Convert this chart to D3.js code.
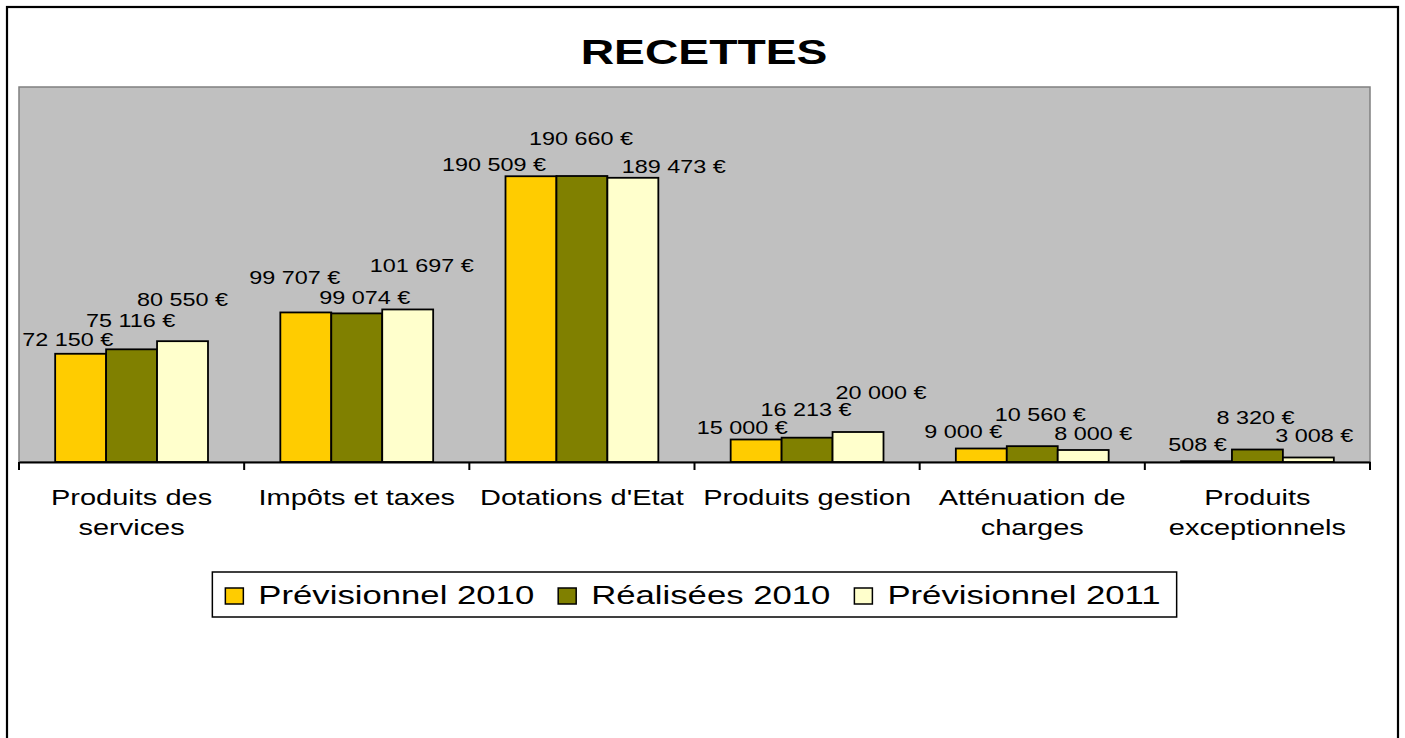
<!DOCTYPE html>
<html>
<head>
<meta charset="utf-8">
<script src="https://cdn.jsdelivr.net/npm/d3@7"></script>
<style>
  body { margin: 0; background: #fff; }
  svg { display: block; font-family: Arial, 'Liberation Sans', sans-serif; }
  .plotbg { fill: #c0c0c0; stroke: #808080; stroke-width: 1.5; }
  .bar { stroke: #000; stroke-width: 1.8; }
  .lbl { font-size: 18px; fill: #000; text-anchor: middle; }
  .cat { font-size: 22.3px; fill: #000; text-anchor: middle; }
  .leg { font-size: 26.7px; fill: #000; }
</style>
</head>
<body>
<script>
const categories = ['Produits des services', 'Impôts et taxes', "Dotations d'Etat", 'Produits gestion', 'Atténuation de charges', 'Produits exceptionnels']
const categoryLines = [['Produits des', 'services'], ['Impôts et taxes'], ["Dotations d'Etat"], ['Produits gestion'], ['Atténuation de', 'charges'], ['Produits', 'exceptionnels']]
const seriesNames = ['Prévisionnel 2010', 'Réalisées 2010', 'Prévisionnel 2011']
const prev2010 = [72150, 99707, 190509, 15000, 9000, 508]
const real2010 = [75116, 99074, 190660, 16213, 10560, 8320]
const prev2011 = [80550, 101697, 189473, 20000, 8000, 3008]
const colors = ['#ffcc00', '#808000', '#ffffcc']

// the labels were dragged by hand in the original: [dx, dy] from bar top centre
const nudgePrev2010 = [[-13, -8], [-11, -28], [-37, -5], [-14, -6], [-18, -11], [-9, -10]]
const nudgeReal2010 = [[-1, -22], [8, -9], [-1, -31], [-1, -22], [8, -25], [-2, -26]]
const nudgePrev2011 = [[0, -35], [14, -37], [41, -5], [23, -33], [10, -10], [6, -15]]

const series = [prev2010, real2010, prev2011]
const nudges = [nudgePrev2010, nudgeReal2010, nudgePrev2011]

const width = 1405
const height = 738
const SX = 1.3 // the picture is stretched sideways

const plot = { left: 19, right: 1370, top: 87, bottom: 462 }

const euro = d3.formatLocale({ thousands: '\u00a0', grouping: [3], decimal: ',', currency: ['', '\u00a0€'] }).format('$,')

const svg = d3.select('body')
  .append('svg')
  .attr('width', width)
  .attr('height', height)

// outer frame
svg.append('rect')
  .attr('x', 7).attr('y', 7)
  .attr('width', 1391).attr('height', 760)
  .attr('fill', '#fff')
  .attr('stroke', '#000')
  .attr('stroke-width', 2.2)

const stretch = (sel, x, y) => sel.attr('transform', `translate(${x},${y}) scale(${SX},1)`)

svg.append('text')
  .text('RECETTES')
  .attr('text-anchor', 'middle')
  .attr('font-size', 35.6)
  .attr('font-weight', 'bold')
  .call(stretch, 704, 64)

const x = d3.scaleBand()
  .domain(categories)
  .range([plot.left, plot.right])

const y = d3.scaleLinear()
  .domain([0, 250000])
  .range([plot.bottom, plot.top])

const barW = x.bandwidth() / 4.42
const xs = d3.scaleBand()
  .domain(d3.range(series.length))
  .range([(x.bandwidth() - 3 * barW) / 2, (x.bandwidth() + 3 * barW) / 2])

svg.append('rect')
  .attr('class', 'plotbg')
  .attr('x', plot.left)
  .attr('y', plot.top)
  .attr('width', plot.right - plot.left)
  .attr('height', plot.bottom - plot.top)

const groups = svg.append('g')
  .selectAll('g')
  .data(categories)
  .join('g')
  .attr('transform', d => `translate(${x(d)},0)`)

groups.selectAll('rect')
  .data((d, i) => series.map((s, k) => ({ k, v: s[i] })))
  .join('rect')
  .attr('class', 'bar')
  .attr('x', d => xs(d.k))
  .attr('width', xs.bandwidth())
  .attr('y', d => y(d.v))
  .attr('height', d => y(0) - y(d.v))
  .attr('fill', d => colors[d.k])

groups.selectAll('text.lbl')
  .data((d, i) => series.map((s, k) => ({ k, v: s[i], n: nudges[k][i] })))
  .join('text')
  .attr('class', 'lbl')
  .text(d => euro(d.v))
  .each(function (d) {
    d3.select(this).call(stretch, xs(d.k) + xs.bandwidth() / 2 + d.n[0], y(d.v) + d.n[1])
  })

// category axis
const axis = svg.append('g')
  .attr('transform', `translate(0,${plot.bottom})`)
  .call(d3.axisBottom(x).tickSize(0).tickFormat(''))
axis.select('.domain').attr('stroke', '#000').attr('stroke-width', 2)

axis.selectAll('line.sep')
  .data(d3.range(categories.length + 1))
  .join('line')
  .attr('class', 'sep')
  .attr('x1', i => plot.left + i * x.step())
  .attr('x2', i => plot.left + i * x.step())
  .attr('y1', 0)
  .attr('y2', 8)
  .attr('stroke', '#000')
  .attr('stroke-width', 2)

categories.forEach((c, i) => {
  categoryLines[i].forEach((line, j) => {
    svg.append('text')
      .attr('class', 'cat')
      .text(line)
      .call(stretch, x(c) + x.bandwidth() / 2, 505 + j * 30)
  })
})

// legend
const legend = svg.append('g')
const legBox = legend.append('rect')
  .attr('fill', '#fff')
  .attr('stroke', '#000')
  .attr('stroke-width', 1.5)

let cx = 0
seriesNames.forEach((name, k) => {
  legend.append('rect')
    .attr('x', cx).attr('y', -6)
    .attr('width', 18).attr('height', 16)
    .attr('fill', colors[k])
    .attr('stroke', '#000')
    .attr('stroke-width', 1.5)
  cx += 18 + 15
  const t = legend.append('text')
    .attr('class', 'leg')
    .text(name)
    .call(stretch, cx, 10)
  cx += t.node().getComputedTextLength() * SX
  if (k < seriesNames.length - 1) cx += 24
})

const padL = 13
const padR = 16
const boxW = cx + padL + padR
const boxX = (plot.left + plot.right) / 2 - boxW / 2
legBox
  .attr('x', -padL).attr('y', -22)
  .attr('width', boxW).attr('height', 45)
legend.attr('transform', `translate(${boxX + padL},${594})`)
</script>
</body>
</html>
